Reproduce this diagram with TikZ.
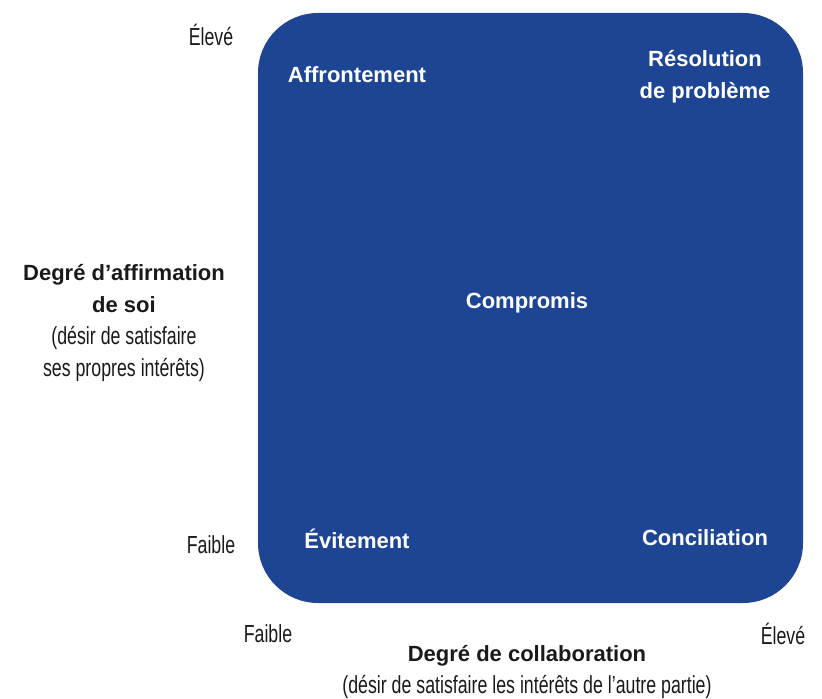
\documentclass[tikz,border=0pt]{standalone}
\usepackage{fontspec}
\setmainfont{Liberation Sans}
\newfontfamily\narrowfont{Liberation Sans}[FakeStretch=0.72]
\usetikzlibrary{positioning}
\definecolor{quadrant}{HTML}{1E4494}
\definecolor{axistext}{HTML}{1A1A1A}

\begin{document}
\begin{tikzpicture}[x=0.75pt, y=-0.75pt,
  style/.style={font=\fontsize{16.5}{24}\selectfont\bfseries, text=white, inner sep=0pt},
  axislabel/.style={font=\fontsize{16.5}{24}\selectfont\bfseries, text=axistext, inner sep=0pt, align=center},
  level/.style={font=\fontsize{18.5}{24}\selectfont\narrowfont, text=axistext, inner sep=0pt},
]
  \useasboundingbox (0,0) rectangle (822,699);

  % the grid of styles
  \node[fill=quadrant, rounded corners=45pt, minimum width=408.75pt, minimum height=442.5pt,
    inner sep=0pt, outer sep=0pt] (grid) at (530.5,308) {};

  \node[style] (affront) at (357,75) {Affrontement};
  \node[style, align=center] (resol) at (705,77) {Résolution\\de problème};
  \node[style] (compro) at (527,303) {Compromis};
  \node[style] (evit) at (357,539) {Évitement};
  \node[style] (concil) at (705,538) {Conciliation};

  % vertical axis
  \node[level] (vhigh) at (211,35) {Élevé};
  \node[level] (vlow) at (211,545) {Faible};
  \node[axislabel] (vaxis) at (124,323) {Degré d’affirmation\\de soi\\
    {\fontsize{18.5}{24}\selectfont\mdseries\narrowfont (désir de satisfaire}\\
    {\fontsize{18.5}{24}\selectfont\mdseries\narrowfont ses propres intérêts)}};

  % horizontal axis
  \node[level] (hlow) at (268,634) {Faible};
  \node[level] (hhigh) at (783,634) {Élevé};
  \node[axislabel] (haxis) at (527,656) {Degré de collaboration};
  \node[level] (hsub) at (527,687) {(désir de satisfaire les intérêts de l’autre partie)};
\end{tikzpicture}
\end{document}
